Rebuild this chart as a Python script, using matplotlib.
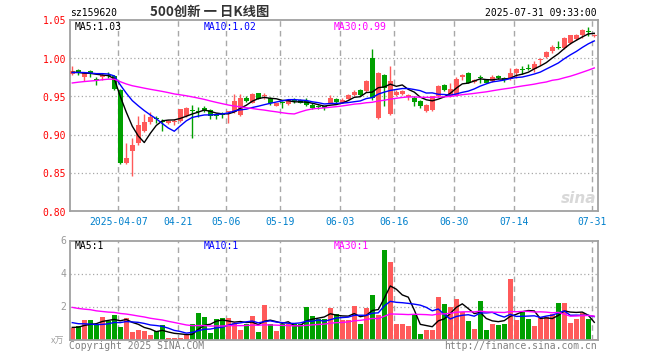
import numpy as np
import pandas as pd
import matplotlib
matplotlib.use("Agg")
import matplotlib.pyplot as plt

# ---------------- data ----------------
holidays = ["2025-04-04", "2025-05-01", "2025-05-02", "2025-05-05", "2025-06-02"]
dates = pd.bdate_range("2025-03-25", "2025-07-31")
dates = dates[~dates.isin(pd.to_datetime(holidays))]

open_ = [0.979, 0.985, 0.976, 0.983, 0.9725, 0.976, 0.978, 0.977, 0.959, 0.863,
         0.878, 0.889, 0.905, 0.916, 0.922, 0.918, 0.915, 0.916, 0.9176, 0.924,
         0.932, 0.931, 0.935, 0.932, 0.925, 0.927, 0.929, 0.930, 0.926, 0.948,
         0.9416, 0.954, 0.950, 0.948, 0.938, 0.943, 0.940, 0.945, 0.945, 0.944,
         0.939, 0.936, 0.937, 0.942, 0.947, 0.942, 0.947, 0.952, 0.959, 0.957,
         1.000, 0.922, 0.978, 0.927, 0.952, 0.953, 0.949, 0.948, 0.944, 0.931,
         0.932, 0.950, 0.965, 0.950, 0.952, 0.975, 0.981, 0.969, 0.9745, 0.972,
         0.970, 0.977, 0.974, 0.973, 0.980, 0.985, 0.987, 0.986, 0.997, 1.001,
         1.009, 1.0145, 1.013, 1.020, 1.025, 1.031, 1.0345, 1.029]
high = [0.990, 0.986, 0.981, 0.985, 0.976, 0.981, 0.982, 0.978, 0.960, 0.889,
        0.895, 0.924, 0.927, 0.929, 0.925, 0.920, 0.919, 0.921, 0.934, 0.936,
        0.939, 0.936, 0.937, 0.933, 0.928, 0.930, 0.931, 0.953, 0.953, 0.950,
        0.955, 0.955, 0.954, 0.949, 0.942, 0.944, 0.946, 0.948, 0.946, 0.948,
        0.942, 0.939, 0.938, 0.952, 0.948, 0.948, 0.953, 0.959, 0.960, 0.971,
        1.012, 0.982, 0.979, 0.990, 0.958, 0.958, 0.953, 0.950, 0.945, 0.940,
        0.951, 0.965, 0.966, 0.967, 0.975, 0.979, 0.982, 0.973, 0.978, 0.973,
        0.978, 0.978, 0.976, 0.987, 0.987, 0.990, 0.993, 0.996, 1.000, 1.009,
        1.017, 1.022, 1.028, 1.031, 1.032, 1.038, 1.041, 1.032]
low = [0.978, 0.978, 0.970, 0.975, 0.965, 0.971, 0.974, 0.958, 0.861, 0.862,
       0.846, 0.887, 0.903, 0.914, 0.915, 0.905, 0.914, 0.913, 0.917, 0.923,
       0.895, 0.923, 0.930, 0.921, 0.921, 0.922, 0.915, 0.928, 0.925, 0.943,
       0.941, 0.946, 0.946, 0.939, 0.937, 0.935, 0.939, 0.942, 0.941, 0.938,
       0.933, 0.933, 0.932, 0.941, 0.942, 0.941, 0.946, 0.950, 0.951, 0.956,
       0.945, 0.921, 0.938, 0.926, 0.951, 0.952, 0.945, 0.938, 0.935, 0.930,
       0.931, 0.949, 0.957, 0.949, 0.951, 0.972, 0.967, 0.968, 0.967, 0.967,
       0.969, 0.973, 0.969, 0.972, 0.974, 0.979, 0.984, 0.982, 0.991, 1.000,
       1.007, 1.012, 1.012, 1.019, 1.024, 1.026, 1.029, 1.028]
close = [0.983, 0.981, 0.980, 0.979, 0.972, 0.978, 0.977, 0.960, 0.863, 0.869,
         0.886, 0.913, 0.917, 0.923, 0.921, 0.916, 0.918, 0.918, 0.933, 0.935,
         0.931, 0.930, 0.932, 0.924, 0.924, 0.926, 0.930, 0.944, 0.948, 0.944,
         0.9525, 0.947, 0.952, 0.942, 0.941, 0.942, 0.945, 0.9445, 0.942, 0.939,
         0.935, 0.9355, 0.935, 0.948, 0.943, 0.945, 0.952, 0.956, 0.952, 0.970,
         0.948, 0.981, 0.961, 0.970, 0.956, 0.957, 0.952, 0.943, 0.937, 0.939,
         0.950, 0.963, 0.958, 0.960, 0.973, 0.978, 0.968, 0.972, 0.974, 0.968,
         0.976, 0.974, 0.971, 0.980, 0.986, 0.9845, 0.9865, 0.993, 0.999, 1.008,
         1.015, 1.014, 1.027, 1.030, 1.031, 1.037, 1.034, 1.031]
volume = [0.72, 0.86, 1.22, 1.22, 0.92, 1.40, 1.18, 1.52, 0.80, 1.34,
          0.50, 0.60, 0.56, 0.32, 0.55, 0.90, 0.10, 0.15, 0.15, 0.35,
          0.95, 1.62, 1.40, 0.45, 1.28, 1.32, 1.32, 1.05, 0.62, 1.00,
          1.45, 0.50, 2.12, 0.95, 0.55, 0.95, 0.95, 0.95, 0.95, 2.00,
          1.45, 1.28, 1.30, 1.92, 1.58, 1.22, 1.22, 2.06, 0.98, 1.96,
          2.72, 1.50, 5.48, 4.72, 0.98, 0.98, 0.82, 1.58, 0.38, 0.62,
          0.62, 2.60, 2.18, 2.00, 2.48, 1.70, 1.16, 0.68, 2.36, 0.62,
          0.98, 0.92, 0.98, 3.68, 1.22, 1.76, 1.30, 0.85, 1.40, 1.40,
          1.55, 2.23, 2.23, 1.05, 1.30, 1.65, 1.28, 0.08]
# history before the first visible day (only feeds the moving averages)
prior_close = [0.950, 0.955, 0.958, 0.952, 0.948, 0.955, 0.960, 0.962, 0.958, 0.955,
               0.960, 0.965, 0.968, 0.962, 0.958, 0.965, 0.970, 0.968, 0.972, 0.975,
               0.978, 0.982, 0.985, 0.980, 0.978, 0.982, 0.985, 0.980, 0.978]
prior_volume = [2.8, 2.5, 2.2, 3.0, 2.6, 2.3, 2.1, 2.7, 2.4, 2.2,
                2.5, 2.3, 2.6, 2.2, 2.4, 2.5, 2.3, 2.4, 2.6, 2.2,
                1.5, 1.3, 1.4, 1.2, 1.3, 0.8, 0.7, 0.9, 0.7]

tick_dates = ["2025-04-07", "2025-04-21", "2025-05-06", "2025-05-19", "2025-06-03",
              "2025-06-16", "2025-06-30", "2025-07-14", "2025-07-31"]
tick_labels = ["2025-04-07", "04-21", "05-06", "05-19", "06-03",
               "06-16", "06-30", "07-14", "07-31"]
price_ticks = [0.80, 0.85, 0.90, 0.95, 1.00, 1.05]
vol_ticks = [2, 4, 6]
code = "sz159620"
title = "500创新 一 日K线图"
stamp = "2025-07-31 09:33:00"
price_ma_text = ["MA5:1.03", "MA10:1.02", "MA30:0.99"]
vol_ma_text = ["MA5:1", "MA10:1", "MA30:1"]

# ---------------- style ----------------
W, H = 660, 360
RED, GREEN = "#ff5a5a", "#00a000"
MA_COLORS = ["#000000", "#0000ff", "#ff00ff"]
GRID = "#a8a8a8"
MONO = "DejaVu Sans Mono"
FS = 7.0

fig = plt.figure(figsize=(W / 100, H / 100), dpi=100)
fig.patch.set_facecolor("white")

def px_axes(l, t, r, b):
    return fig.add_axes([l / W, 1 - b / H, (r - l) / W, (b - t) / H])

ax = px_axes(70, 20, 598, 211)
axv = px_axes(70, 241, 598, 340)

n = len(close)
x = np.arange(n)
o = np.array(open_); c = np.array(close); h = np.array(high); lo = np.array(low)
v = np.array(volume)
up = c >= o
cols = np.where(up, RED, GREEN)

cs = pd.Series(prior_close + close)
vs = pd.Series(prior_volume + volume)
k = len(prior_close)

xlim = (-0.38, n - 1 + 0.62)
tick_x = [dates.get_loc(pd.Timestamp(d)) - 0.33 for d in tick_dates]

for a in (ax, axv):
    a.set_xlim(*xlim)
    a.set_xticks([]); a.set_yticks([])
    for s in a.spines.values():
        s.set_color("#a0a0a0"); s.set_linewidth(1.3)
    for tx in tick_x:
        a.axvline(tx, color=GRID, lw=1.0, ls=(0, (4, 3)), zorder=0)

ax.set_ylim(0.80, 1.05)
axv.set_ylim(0, 6)
for p in price_ticks[1:-1]:
    ax.axhline(p, color=GRID, lw=0.9, ls=(0, (1, 2)), zorder=0)
for t in vol_ticks[:-1]:
    axv.axhline(t, color=GRID, lw=0.9, ls=(0, (1, 2)), zorder=0)

# candles
ax.vlines(x, lo, h, colors=cols, lw=1.0, zorder=2)
body = np.maximum(np.abs(c - o), 0.0013)
ax.bar(x, body, bottom=np.minimum(o, c), width=0.83, color=cols, lw=0, zorder=3)

# price MAs
for nma, col in zip([5, 10, 30], MA_COLORS):
    ma = cs.rolling(nma).mean().iloc[k:].values
    ax.plot(x, ma, color=col, lw=1.0, zorder=4)

# volume
axv.bar(x, v, width=0.83, color=cols, lw=0, zorder=2)
for nma, col in zip([5, 10, 30], MA_COLORS):
    ma = vs.rolling(nma).mean().iloc[k:].values
    axv.plot(x, ma, color=col, lw=1.0, zorder=4)

# ---------------- texts ----------------
def ftxt(px, py, s, **kw):
    fig.text(px / W, 1 - py / H, s, **kw)

for p in price_ticks:
    ypx = 20 + (1.05 - p) / 0.25 * 191
    ftxt(66, ypx + 1.5, f"{p:.2f}", ha="right", va="center", color="#ff0000",
         family=MONO, fontsize=FS)
for t in vol_ticks:
    ypx = 340 - t / 6 * 99
    ftxt(66, ypx, f"{t}", ha="right", va="center", color="#999999",
         family=MONO, fontsize=FS)
ftxt(64, 341, "x万", ha="right", va="center", color="#a0a0a0",
     family=["Noto Sans CJK SC", "DejaVu Sans"], fontsize=6.5)

for tx, lab in zip(tick_x, tick_labels):
    xpx = 70 + (tx - xlim[0]) / (xlim[1] - xlim[0]) * 528
    ftxt(xpx, 222, lab, ha="center", va="center", color="#0080cc",
         family=MONO, fontsize=FS)

for xp, s, col in zip([75, 204, 334], price_ma_text, MA_COLORS):
    ftxt(xp, 27, s, ha="left", va="center", color=col, family=MONO, fontsize=FS)
for xp, s, col in zip([75, 204, 334], vol_ma_text, MA_COLORS):
    ftxt(xp, 246, s, ha="left", va="center", color=col, family=MONO, fontsize=FS)

ftxt(70, 13.5, code, ha="left", va="center", color="#000000", family=MONO, fontsize=FS)
ftxt(209.5, 11.5, title, ha="center", va="center", color="#333333",
     family=["Noto Sans CJK SC", "DejaVu Sans"], fontsize=9.6, fontweight="bold")
ftxt(597, 12.5, stamp, ha="right", va="center", color="#000000", family=MONO, fontsize=FS)

ftxt(69, 346, "Copyright 2025 SINA.COM", ha="left", va="center", color="#808080",
     family=MONO, fontsize=FS)
ftxt(597, 346, "http://finance.sina.com.cn", ha="right", va="center", color="#808080",
     family=MONO, fontsize=FS)

ftxt(596, 198, "sina", ha="right", va="center", color="#d8d8d8",
     family="DejaVu Sans", fontsize=11, fontweight="bold", style="italic")

fig.savefig("out.png", dpi=100, facecolor="white")
